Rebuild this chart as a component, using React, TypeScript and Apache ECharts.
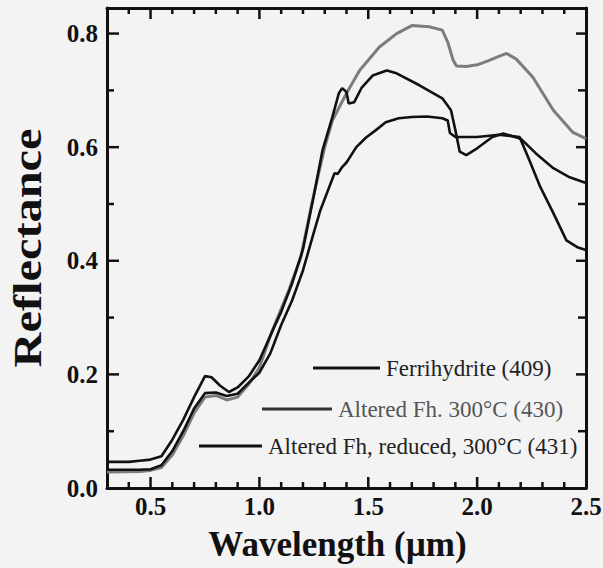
import React, { useEffect, useRef } from "react";
import * as echarts from "echarts";

const seriesNames = [
  "Ferrihydrite (409)",
  "Altered Fh. 300°C (430)",
  "Altered Fh, reduced, 300°C (431)",
];

const ferriX = [0.30, 0.40, 0.45, 0.50, 0.55, 0.60, 0.65, 0.70, 0.75, 0.78, 0.82, 0.86, 0.90, 0.95, 1.00, 1.05, 1.10, 1.15, 1.20, 1.25, 1.29, 1.335, 1.365, 1.38, 1.40, 1.41, 1.435, 1.47, 1.52, 1.585, 1.63, 1.735, 1.84, 1.88, 1.90, 1.92, 1.95, 2.00, 2.07, 2.12, 2.20, 2.27, 2.35, 2.425, 2.50];
const ferriY = [0.046, 0.046, 0.048, 0.050, 0.056, 0.085, 0.120, 0.160, 0.197, 0.195, 0.180, 0.169, 0.177, 0.196, 0.225, 0.268, 0.310, 0.360, 0.420, 0.515, 0.595, 0.653, 0.695, 0.704, 0.697, 0.677, 0.679, 0.705, 0.726, 0.735, 0.730, 0.709, 0.686, 0.665, 0.630, 0.592, 0.586, 0.598, 0.618, 0.624, 0.615, 0.589, 0.563, 0.547, 0.537];

const alteredX = [0.30, 0.45, 0.50, 0.55, 0.60, 0.65, 0.70, 0.75, 0.80, 0.85, 0.90, 0.95, 1.00, 1.06, 1.135, 1.19, 1.237, 1.265, 1.30, 1.335, 1.40, 1.46, 1.55, 1.63, 1.70, 1.78, 1.84, 1.865, 1.89, 1.905, 1.95, 2.00, 2.05, 2.10, 2.135, 2.18, 2.256, 2.35, 2.44, 2.50];
const alteredY = [0.028, 0.029, 0.031, 0.036, 0.058, 0.092, 0.132, 0.160, 0.163, 0.155, 0.160, 0.182, 0.212, 0.278, 0.348, 0.406, 0.494, 0.542, 0.600, 0.647, 0.695, 0.735, 0.776, 0.800, 0.814, 0.812, 0.806, 0.785, 0.753, 0.743, 0.742, 0.745, 0.752, 0.760, 0.765, 0.755, 0.723, 0.665, 0.626, 0.615];

const reducedX = [0.30, 0.45, 0.50, 0.55, 0.60, 0.65, 0.70, 0.75, 0.80, 0.85, 0.90, 0.95, 1.00, 1.05, 1.10, 1.15, 1.20, 1.25, 1.28, 1.32, 1.345, 1.36, 1.38, 1.40, 1.445, 1.49, 1.535, 1.58, 1.64, 1.70, 1.77, 1.84, 1.865, 1.875, 1.90, 2.00, 2.10, 2.195, 2.24, 2.29, 2.35, 2.41, 2.46, 2.50];
const reducedY = [0.032, 0.032, 0.033, 0.040, 0.065, 0.100, 0.140, 0.167, 0.168, 0.162, 0.166, 0.185, 0.203, 0.237, 0.287, 0.330, 0.383, 0.450, 0.489, 0.529, 0.554, 0.553, 0.565, 0.573, 0.600, 0.617, 0.630, 0.644, 0.651, 0.653, 0.654, 0.651, 0.647, 0.625, 0.618, 0.618, 0.622, 0.618, 0.577, 0.530, 0.484, 0.436, 0.424, 0.419];

const xLabelValues = [0.5, 1.0, 1.5, 2.0, 2.5];
const xMajorTicks = [0.5, 1.0, 1.5, 2.0];
const xMinorTicks = [0.4, 0.6, 0.7, 0.8, 0.9, 1.1, 1.2, 1.3, 1.4, 1.6, 1.7, 1.8, 1.9, 2.1, 2.2, 2.3, 2.4];
const yLabelValues = [0.0, 0.2, 0.4, 0.6, 0.8];
const yMajorTicks = [0.2, 0.4, 0.6, 0.8];
const yMinorTicks = [0.1, 0.3, 0.5, 0.7];

const X_MIN = 0.3;
const X_MAX = 2.5;
const Y_MIN = 0;
const Y_MAX = 0.845;

const W = 603;
const H = 568;
const G_LEFT = 107;
const G_RIGHT = 17;
const G_TOP = 8;
const G_BOTTOM = 80;

const SERIF = "'Liberation Serif', 'Times New Roman', serif";
const INK = "#111";

function zip(xs: number[], ys: number[]) {
  return xs.map((x, i) => [x, ys[i]]);
}

const PLOT_W = W - G_LEFT - G_RIGHT;
const PLOT_H = H - G_TOP - G_BOTTOM;
const pxToDX = (px: number) => (px / PLOT_W) * (X_MAX - X_MIN);
const pxToDY = (px: number) => (px / PLOT_H) * (Y_MAX - Y_MIN);

// one small line series per tick mark, drawn through the chart's own axes
function buildTickSeries() {
  const out: any[] = [];
  const seg = (a: number[], b: number[]) => {
    out.push({
      type: "line",
      data: [a, b],
      showSymbol: false,
      silent: true,
      clip: false,
      lineStyle: { color: INK, width: 2.5, cap: "butt" },
      z: 6,
    });
  };
  const xt = (v: number, len: number) => {
    const dy = pxToDY(len);
    seg([v, Y_MIN], [v, Y_MIN + dy]);
    seg([v, Y_MAX], [v, Y_MAX - dy]);
  };
  const yt = (v: number, lenL: number, lenR: number) => {
    seg([X_MIN, v], [X_MIN + pxToDX(lenL), v]);
    seg([X_MAX, v], [X_MAX - pxToDX(lenR), v]);
  };
  xMajorTicks.forEach((v) => xt(v, 11));
  xMinorTicks.forEach((v) => xt(v, 6));
  yMajorTicks.forEach((v) => yt(v, 12, 10));
  yMinorTicks.forEach((v) => yt(v, 7, 8));
  return out;
}

function buildGraphic() {
  const g: any[] = [];
  const legendRows = [
    { lineX1: 313, lineX2: 380, y: 368, textX: 386, lineColor: "#111", textColor: "#222" },
    { lineX1: 262, lineX2: 332, y: 409, textX: 338, lineColor: "#333", textColor: "#555" },
    { lineX1: 199, lineX2: 262, y: 446, textX: 268, lineColor: "#111", textColor: "#222" },
  ];
  legendRows.forEach((r, i) => {
    g.push({
      type: "line",
      shape: { x1: r.lineX1, y1: r.y, x2: r.lineX2, y2: r.y },
      style: { stroke: r.lineColor, lineWidth: 3 },
      z: 10,
    });
    g.push({
      type: "text",
      x: r.textX,
      y: r.y,
      style: {
        text: seriesNames[i],
        fill: r.textColor,
        font: `normal 23px ${SERIF}`,
        verticalAlign: "middle",
      },
      z: 10,
    });
  });
  g.push({
    type: "text",
    x: 27,
    y: 248,
    rotation: Math.PI / 2,
    scaleX: 1.18,
    style: {
      text: "Reflectance",
      fill: INK,
      font: `bold 41px ${SERIF}`,
      align: "center",
      verticalAlign: "middle",
    },
    z: 10,
  });
  return g;
}

export default function App() {
  const ref = useRef<HTMLDivElement>(null);

  useEffect(() => {
    if (!ref.current) return;
    const chart = echarts.init(ref.current, null, { renderer: "svg" });

    const frameLine = { show: true, onZero: false, lineStyle: { color: INK, width: 3 } };
    const labelStyle = {
      show: true,
      fontFamily: SERIF,
      fontWeight: "bold",
      fontSize: 25,
      color: INK,
    };

    const option: any = {
      animation: false,
      backgroundColor: "#f3f3f3",
      grid: {
        left: G_LEFT,
        right: G_RIGHT,
        top: G_TOP,
        bottom: G_BOTTOM,
        containLabel: false,
        outerBoundsMode: "none",
      },
      xAxis: [
        {
          type: "value",
          position: "bottom",
          min: X_MIN,
          max: X_MAX,
          axisLine: frameLine,
          axisTick: { show: false },
          splitLine: { show: false },
          axisLabel: {
            ...labelStyle,
            margin: 6,
            customValues: xLabelValues,
            formatter: (v: number) => v.toFixed(1),
          },
          name: "Wavelength (µm)",
          nameLocation: "middle",
          nameGap: 39,
          nameTextStyle: {
            fontFamily: SERIF,
            fontWeight: "bold",
            fontSize: 35,
            color: INK,
            padding: [0, 18, 0, 0],
          },
        },
        {
          type: "value",
          position: "top",
          min: X_MIN,
          max: X_MAX,
          axisLine: frameLine,
          axisTick: { show: false },
          axisLabel: { show: false },
          splitLine: { show: false },
        },
      ],
      yAxis: [
        {
          type: "value",
          position: "left",
          min: Y_MIN,
          max: Y_MAX,
          axisLine: frameLine,
          axisTick: { show: false },
          splitLine: { show: false },
          axisLabel: {
            ...labelStyle,
            margin: 9,
            customValues: yLabelValues,
            formatter: (v: number) => v.toFixed(1),
          },
        },
        {
          type: "value",
          position: "right",
          min: Y_MIN,
          max: Y_MAX,
          axisLine: frameLine,
          axisTick: { show: false },
          axisLabel: { show: false },
          splitLine: { show: false },
        },
      ],
      series: [
        {
          name: seriesNames[1],
          type: "line",
          data: zip(alteredX, alteredY),
          showSymbol: false,
          lineStyle: { color: "#7c7c7c", width: 3 },
          z: 2,
        },
        {
          name: seriesNames[2],
          type: "line",
          data: zip(reducedX, reducedY),
          showSymbol: false,
          lineStyle: { color: "#111", width: 2.6 },
          z: 3,
        },
        {
          name: seriesNames[0],
          type: "line",
          data: zip(ferriX, ferriY),
          showSymbol: false,
          lineStyle: { color: "#111", width: 2.6 },
          z: 4,
        },
        ...buildTickSeries(),
      ],
      graphic: buildGraphic(),
    };

    chart.setOption(option);
    return () => chart.dispose();
  }, []);

  return (
    <div
      ref={ref}
      style={{ position: "absolute", left: 0, top: 0, width: W, height: H }}
    />
  );
}
